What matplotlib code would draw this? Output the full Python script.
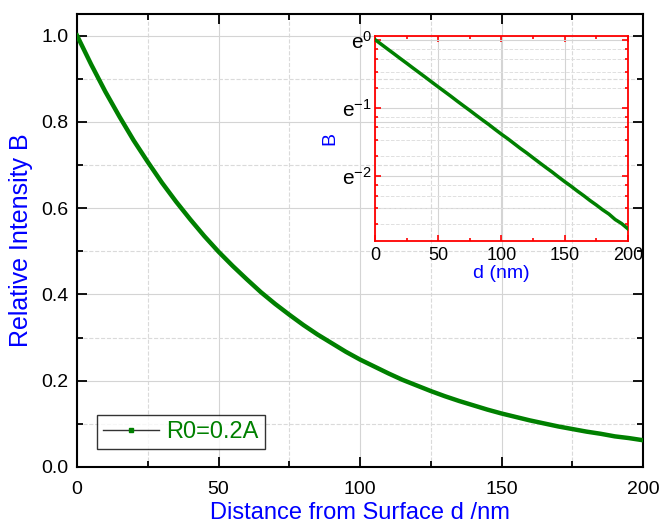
import matplotlib
matplotlib.use('Agg')
import matplotlib.pyplot as plt
from matplotlib.lines import Line2D
from matplotlib.ticker import MultipleLocator, FixedLocator, LogLocator, NullFormatter
import numpy as np

plt.rcParams['font.family'] = ['Liberation Sans', 'DejaVu Sans']
plt.rcParams['mathtext.fontset'] = 'custom'
plt.rcParams['mathtext.rm'] = 'Liberation Sans'

# distance d (nm) and relative intensity B
d = [0, 5, 10, 15, 20, 25, 30, 35, 40, 45, 50, 55, 60, 65, 70, 75, 80, 85, 90, 95,
     100, 105, 110, 115, 120, 125, 130, 135, 140, 145, 150, 155, 160, 165, 170, 175,
     180, 185, 190, 195, 200]
B = [1.000, 0.933, 0.870, 0.812, 0.757, 0.707, 0.659, 0.615, 0.574, 0.535, 0.499,
     0.466, 0.435, 0.405, 0.378, 0.353, 0.329, 0.307, 0.287, 0.267, 0.249, 0.233,
     0.217, 0.202, 0.189, 0.176, 0.164, 0.153, 0.143, 0.133, 0.124, 0.116, 0.108,
     0.101, 0.094, 0.088, 0.082, 0.077, 0.071, 0.067, 0.062]
series_label = 'R0=0.2A'

inset_yticks = [np.e ** 0, np.e ** -1, np.e ** -2]
inset_yticklabels = [r'$\mathregular{e^{0}}$', r'$\mathregular{e^{-1}}$', r'$\mathregular{e^{-2}}$']

fig = plt.figure(figsize=(6.6, 5.25), dpi=100)
ax = fig.add_axes([0.1167, 0.1105, 0.8576, 0.8629])

ax.plot(d, B, color='green', lw=3.2, zorder=3)
ax.set_xlim(0, 200)
ax.set_ylim(0, 1.05)
ax.xaxis.set_major_locator(MultipleLocator(50))
ax.xaxis.set_minor_locator(MultipleLocator(25))
ax.yaxis.set_major_locator(FixedLocator([0, 0.2, 0.4, 0.6, 0.8, 1.0]))
ax.yaxis.set_minor_locator(FixedLocator([0.1, 0.3, 0.5, 0.7, 0.9]))
ax.yaxis.set_major_formatter(plt.FuncFormatter(lambda v, p: '%.1f' % v))
ax.grid(which='major', color='#d4d4d4', lw=0.8, ls='-')
ax.grid(which='minor', color='#dadada', lw=0.8, ls='--')
ax.set_axisbelow(True)
ax.tick_params(which='both', direction='in', top=True, right=True, labelsize=14, width=1.3)
ax.tick_params(which='major', length=7)
ax.tick_params(which='minor', length=4)
ax.tick_params(axis='x', pad=10)
ax.tick_params(axis='y', pad=6)
for s in ax.spines.values():
    s.set_linewidth(1.5)
ax.set_xlabel('Distance from Surface d /nm', color='blue', fontsize=17, labelpad=3)
ax.set_ylabel('Relative Intensity B', color='blue', fontsize=18, labelpad=6)

handle = Line2D([], [], color='#333333', lw=1, marker='s', ms=3, mfc='green', mec='green')
leg = ax.legend([handle], [series_label], loc='lower left', bbox_to_anchor=(0.035, 0.04),
                fontsize=17, frameon=True, fancybox=False, handlelength=2.4,
                borderpad=0.25, handletextpad=0.3, borderaxespad=0)
leg.get_frame().set_edgecolor('black')
leg.get_frame().set_linewidth(1)
for t in leg.get_texts():
    t.set_color('green')

# inset on ln scale
ins = fig.add_axes([0.568, 0.541, 0.3833, 0.391])
ins.patch.set_alpha(0)
ins.plot(d, B, color='green', lw=2.5, zorder=3)
ins.set_yscale('log', base=np.e)
ins.set_xlim(0, 200)
ins.set_ylim(np.e ** -2.96, np.e ** 0.056)
ins.xaxis.set_major_locator(MultipleLocator(50))
ins.xaxis.set_minor_locator(MultipleLocator(25))
ins.yaxis.set_major_locator(FixedLocator(inset_yticks))
ins.set_yticklabels(inset_yticklabels)
ins.yaxis.set_minor_locator(LogLocator(base=np.e, subs=[1.34, 1.69, 2.03, 2.37]))
ins.yaxis.set_minor_formatter(NullFormatter())
ins.grid(which='major', color='#d4d4d4', lw=0.8, ls='-')
ins.grid(which='minor', axis='y', color='#e0e0e0', lw=0.7, ls='--')
ins.tick_params(which='both', direction='in', top=True, right=True, color='red', width=1.2)
ins.tick_params(which='major', length=4)
ins.tick_params(which='minor', length=2.5)
ins.tick_params(axis='x', labelsize=13, pad=4)
ins.tick_params(axis='y', labelsize=15, pad=2)
for s in ins.spines.values():
    s.set_color('red')
    s.set_linewidth(1.3)
ins.set_xlabel('d (nm)', color='blue', fontsize=14, labelpad=1)
ins.set_ylabel('B', color='blue', fontsize=14, labelpad=3)

fig.savefig('out.png', dpi=100)
